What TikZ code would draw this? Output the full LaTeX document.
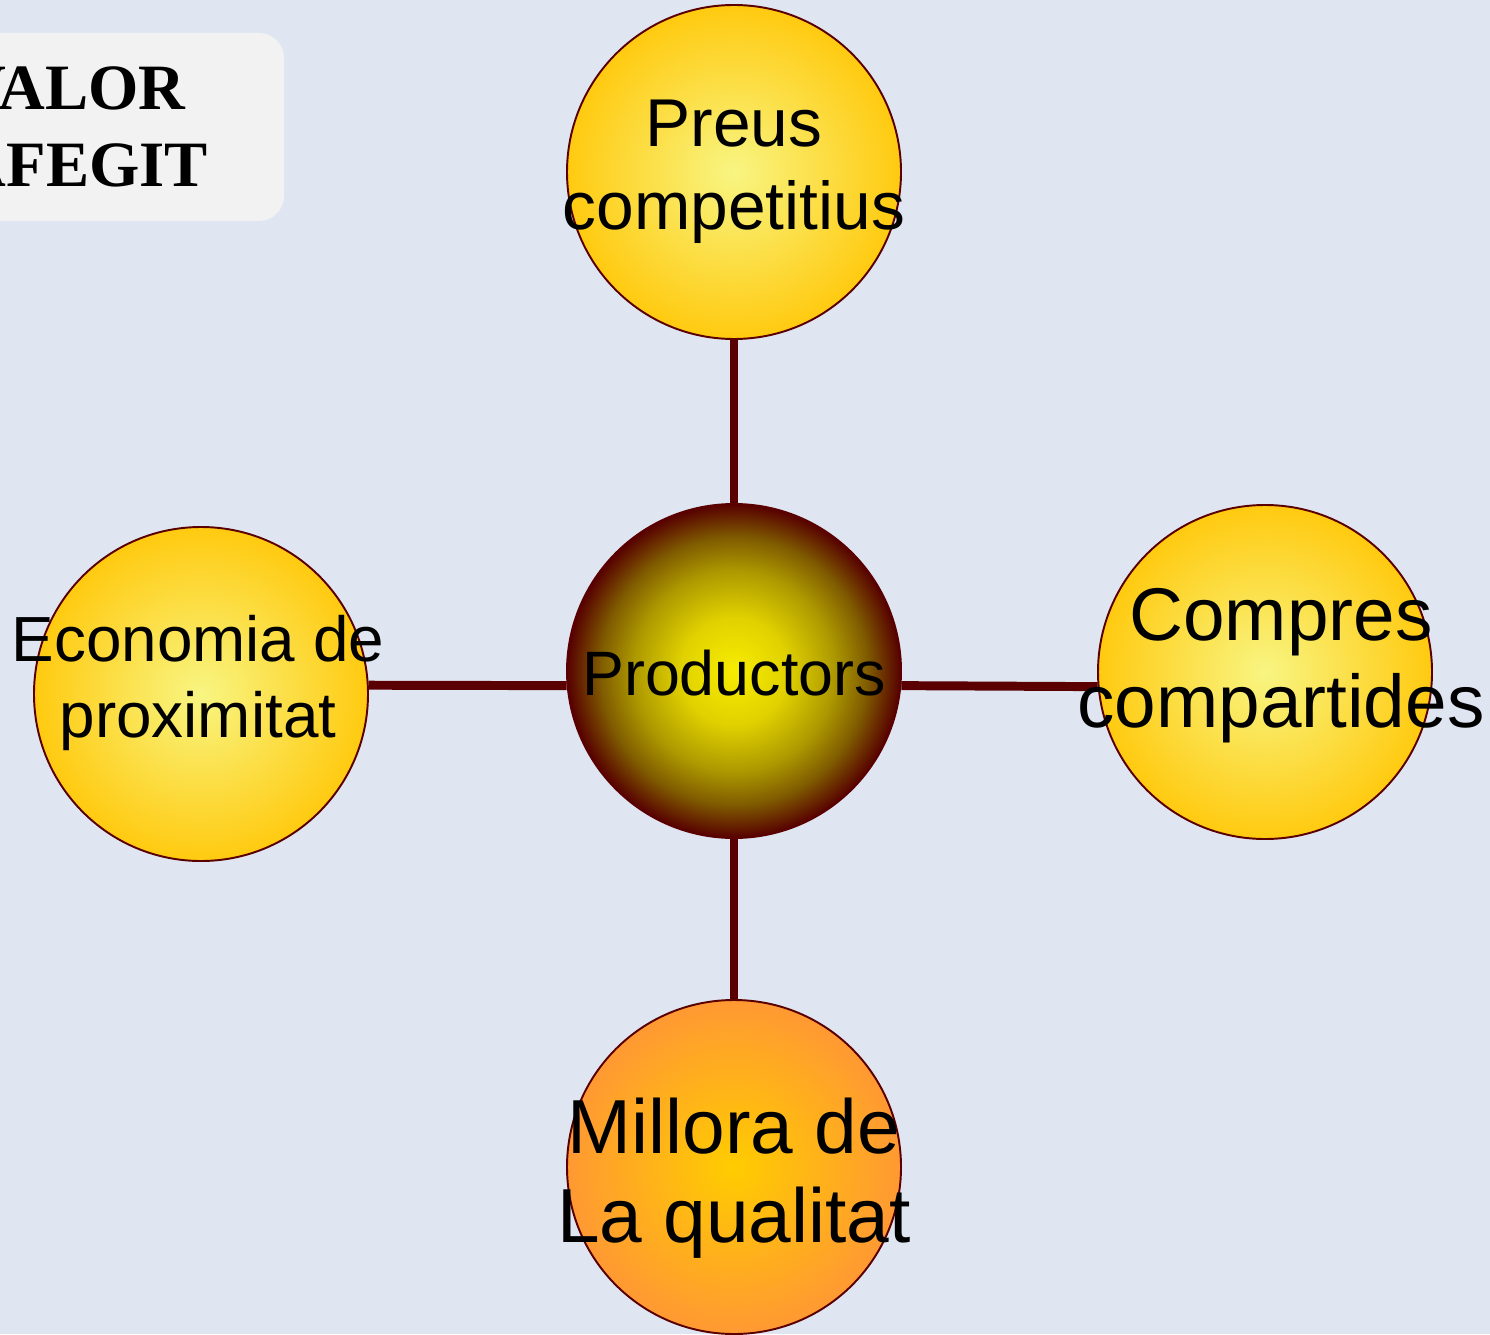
\documentclass[tikz,border=0pt]{standalone}
\usepackage{fontspec}
\setmainfont{Liberation Sans}
\newfontfamily\legendfont{Liberation Serif}
\usepackage{xcolor}
\usetikzlibrary{positioning}

\definecolor{bgblue}{RGB}{223,230,242}
\definecolor{legendgray}{RGB}{242,242,242}
\definecolor{linkred}{RGB}{90,0,0}
\definecolor{gold}{RGB}{255,202,16}
\definecolor{palegold}{RGB}{248,245,130}
\definecolor{orangeedge}{RGB}{255,153,51}
\definecolor{orangemid}{RGB}{255,204,0}

% shading of the central ball
\pgfdeclareradialshading{hubshade}{\pgfpoint{0bp}{0bp}}{%
	rgb(0bp)=(0.97,0.93,0);
	rgb(8bp)=(0.88,0.82,0);
	rgb(15bp)=(0.68,0.60,0);
	rgb(20bp)=(0.50,0.36,0);
	rgb(25bp)=(0.34,0,0);
	rgb(50bp)=(0.34,0,0)}

\tikzset{
	bubble/.style={circle, draw=linkred, line width=1.1pt, minimum size=6.68cm, inner sep=0pt},
	goldball/.style={bubble, inner color=palegold, outer color=gold},
	orangeball/.style={bubble, inner color=orangemid, outer color=orangeedge},
	hubball/.style={bubble, shading=hubshade},
	caption/.style={align=center, inner sep=0pt, text=black},
	link/.style={draw=linkred, line width=5.1pt}
}

\begin{document}
\begin{tikzpicture}

		% Background
		\fill[bgblue] (0,0) rectangle (29.8,-26.68);
		\useasboundingbox (0,0) rectangle (29.8,-26.68);

		% Legend box
		\node[fill=legendgray, rounded corners=0.5cm, align=left, text width=5.44cm,
			inner xsep=1.04cm, minimum height=3.76cm,
			font=\legendfont\bfseries\fontsize{36.8}{43.6}\selectfont] (valor) at (1.92,-2.54) {VALOR\\AFEGIT};

		% Circles
		\node[hubball] (prod) at (14.68,-13.42) {};
		\node[goldball] (preus) at (14.68,-3.44) {};
		\node[goldball] (compr) at (25.30,-13.44) {};
		\node[goldball] (econ) at (4.02,-13.88) {};
		\node[orangeball] (millora) at (14.68,-23.34) {};

		% Connectors
		\draw[link] (preus.south) -- (prod.north);
		\draw[link] (prod.south) -- (millora.north);
		\draw[link] (prod.185) -- (econ.3);
		\draw[link] (prod.-5) -- (compr.185);

		% Texts
		\node[caption, font=\fontsize{35.7}{43}\selectfont, yshift=-0.04cm] (prod-txt) at (prod) {Productors};
		\node[caption, font=\fontsize{38.5}{47}\selectfont] (preus-txt) at (preus) {Preus\\competitius};
		\node[caption, font=\fontsize{42.5}{49.3}\selectfont, xshift=0.32cm, yshift=0.13cm] (compr-txt) at (compr) {Compres\\compartides};
		\node[caption, font=\fontsize{36.3}{43.1}\selectfont, xshift=-0.06cm, yshift=0.22cm] (econ-txt) at (econ) {Economia de\\proximitat};
		\node[caption, font=\fontsize{43.6}{50.5}\selectfont, yshift=-0.22cm] (millora-txt) at (millora) {Millora de\\La qualitat};
	\end{tikzpicture}
\end{document}
